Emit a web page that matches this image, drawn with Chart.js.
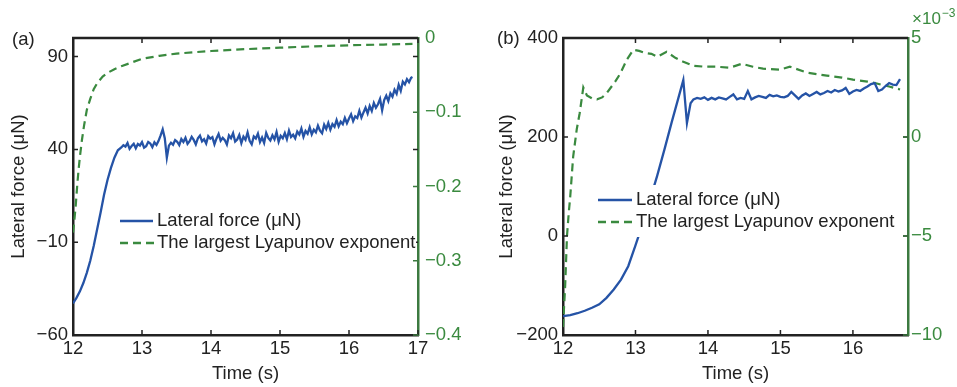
<!DOCTYPE html>
<html>
<head>
<meta charset="utf-8">
<script src="https://cdn.jsdelivr.net/npm/chart.js@4.4.1/dist/chart.umd.min.js"></script>
<style>
  html, body { margin: 0; padding: 0; background: #fff; }
  #wrap { position: relative; width: 957px; height: 387px; }
  .panel { position: absolute; top: 0; height: 387px; }
</style>
</head>
<body>
<div id="wrap">
  <div class="panel" style="left:0;width:478px"><canvas id="chartA" width="478" height="387"></canvas></div>
  <div class="panel" style="left:478px;width:479px"><canvas id="chartB" width="479" height="387"></canvas></div>
</div>
<script>
// ---- panel (a) ----
const aForceTime = [12.00, 12.05, 12.10, 12.15, 12.20, 12.25, 12.30, 12.35, 12.40, 12.45, 12.50, 12.55, 12.60, 12.65,
  12.70, 12.73, 12.76, 12.79, 12.82, 12.85, 12.88, 12.91, 12.94, 12.97, 13.00, 13.03, 13.06, 13.09, 13.12, 13.15,
  13.18, 13.21, 13.24, 13.27, 13.30, 13.33, 13.36, 13.39, 13.42, 13.45, 13.48, 13.51, 13.54, 13.57, 13.60, 13.63,
  13.66, 13.69, 13.72, 13.75, 13.78, 13.81, 13.84, 13.87, 13.90, 13.93, 13.96, 13.99, 14.02, 14.05, 14.08, 14.11,
  14.14, 14.17, 14.20, 14.23, 14.26, 14.29, 14.32, 14.35, 14.38, 14.41, 14.44, 14.47, 14.50, 14.53, 14.56, 14.59,
  14.62, 14.65, 14.68, 14.71, 14.74, 14.77, 14.80, 14.83, 14.86, 14.89, 14.92, 14.95, 14.98, 15.01, 15.04, 15.07,
  15.10, 15.13, 15.16, 15.19, 15.22, 15.25, 15.28, 15.31, 15.34, 15.37, 15.40, 15.43, 15.46, 15.49, 15.52, 15.55,
  15.58, 15.61, 15.64, 15.67, 15.70, 15.73, 15.76, 15.79, 15.82, 15.85, 15.88, 15.91, 15.94, 15.97, 16.00, 16.03,
  16.06, 16.09, 16.12, 16.15, 16.18, 16.21, 16.24, 16.27, 16.30, 16.33, 16.36, 16.39, 16.42, 16.45, 16.48, 16.51,
  16.54, 16.57, 16.60, 16.63, 16.66, 16.69, 16.72, 16.75, 16.78, 16.81, 16.84, 16.87, 16.90, 16.92];
const aForce = [-43, -40, -36.5, -32, -26.5, -20, -12, -3, 6, 15.5, 23.5, 30, 35.5, 39.5,
  41.0, 42.2, 41.5, 43.4, 40.3, 41.8, 43.0, 40.6, 42.9, 42.1, 43.9, 40.9, 41.7, 44.0, 43.2, 41.2,
  43.8, 42.4, 44.6, 47.5, 50.8, 46.0, 35.5, 42.0, 43.6, 42.5, 45.0, 44.1, 42.3, 45.6, 44.0, 46.3,
  43.0, 44.4, 46.8, 45.1, 42.7, 46.0, 47.4, 44.3, 45.5, 43.2, 47.1, 45.8, 46.6, 42.8, 45.9, 48.3,
  44.7, 46.2, 45.0, 42.6, 47.5, 46.0, 48.7, 44.2, 45.3, 47.8, 43.4, 46.9, 45.2, 49.1, 44.6, 42.7,
  47.0, 45.9, 48.5, 44.0, 46.4, 43.5, 48.9, 46.2, 44.8, 47.6, 45.4, 49.3, 44.1, 47.3, 46.0, 48.8,
  45.5, 50.1, 46.7, 47.9, 45.9, 49.6, 48.0, 51.2, 46.8, 49.9, 48.4, 51.9, 48.1, 50.6, 49.2, 52.8,
  50.1, 48.7, 53.3, 51.0, 54.2, 50.6, 53.6, 52.2, 55.8, 52.4, 54.9, 53.6, 57.0, 54.1, 56.6, 58.9,
  55.2, 57.8, 56.9, 60.8, 57.1, 59.9, 62.5, 59.4, 63.4, 60.7, 65.0, 62.4, 64.3, 67.2, 61.0, 66.6,
  68.9, 66.0, 70.2, 68.4, 72.1, 70.0, 74.8, 71.6, 76.5, 75.0, 77.8, 76.2, 78.6, 79.0];
const aLyapTime = [12.00, 12.02, 12.04, 12.06, 12.08, 12.10, 12.13, 12.16, 12.20, 12.25, 12.30, 12.35, 12.43, 12.50,
  12.60, 12.70, 12.85, 13.00, 13.25, 13.50, 14.00, 14.50, 15.00, 15.50, 16.00, 16.50, 16.92];
const aLyap = [-0.262, -0.245, -0.225, -0.200, -0.178, -0.160, -0.137, -0.118, -0.097, -0.082, -0.069, -0.061, -0.052, -0.047,
  -0.042, -0.038, -0.033, -0.028, -0.024, -0.021, -0.0175, -0.015, -0.013, -0.0112, -0.0098, -0.0088, -0.008];
const aTimeTicks = [12, 13, 14, 15, 16, 17];
const aForceTicks = [-60, -10, 40, 90];
const aLyapTicks = [-0.4, -0.3, -0.2, -0.1, 0];

// ---- panel (b) ----
const bForceTime = [12.00, 12.10, 12.20, 12.30, 12.40, 12.50, 12.60, 12.70, 12.80, 12.90, 13.00, 13.10, 13.20, 13.30,
  13.40, 13.50, 13.60, 13.66, 13.71, 13.76,
  13.80, 13.85, 13.90, 13.95, 14.00, 14.05, 14.10, 14.15, 14.20, 14.25, 14.30, 14.35, 14.40, 14.45, 14.50, 14.55,
  14.60, 14.65, 14.70, 14.75, 14.80, 14.85, 14.90, 14.95, 15.00, 15.05, 15.10, 15.15, 15.20, 15.25, 15.30, 15.35,
  15.40, 15.45, 15.50, 15.55, 15.60, 15.65, 15.70, 15.75, 15.80, 15.85, 15.90, 15.95, 16.00, 16.05, 16.10, 16.15,
  16.20, 16.25, 16.30, 16.35, 16.40, 16.45, 16.50, 16.55, 16.60, 16.65];
const bForce = [-162, -160, -156, -151, -145, -138, -125, -108, -88, -61, -19, 25, 73, 122,
  175, 230, 283, 315, 228, 268,
  276, 279, 277, 280, 275, 279, 276, 280, 278, 276, 281, 286, 276, 279, 277, 293,
  276, 280, 283, 281, 279, 285, 282, 284, 281, 280, 283, 291, 284, 277, 284, 288,
  283, 287, 291, 286, 289, 293, 290, 295, 292, 294, 299, 287, 292, 295, 293, 298,
  302, 307, 309, 293, 296, 303, 309, 306, 305, 317];
const bLyapTime = [12.00, 12.03, 12.055, 12.08, 12.10, 12.14, 12.19, 12.23, 12.28, 12.33, 12.40, 12.47, 12.54, 12.60,
  12.65, 12.72, 12.79, 12.88, 12.97, 13.05, 13.13, 13.22, 13.30, 13.43, 13.55, 13.66, 13.80, 13.95, 14.12, 14.30,
  14.47, 14.62, 14.76, 14.99, 15.13, 15.37, 15.64, 15.85, 16.00, 16.20, 16.33, 16.50, 16.65];
const bLyap = [-9.6, -7.5, -5.0, -3.8, -3.0, -1.0, 0.4, 1.2, 2.5, 2.1, 1.95, 1.9, 2.0, 2.2,
  2.45, 2.8, 3.2, 3.9, 4.4, 4.35, 4.25, 4.2, 4.05, 4.3, 4.0, 3.8, 3.6, 3.55, 3.55, 3.5,
  3.7, 3.55, 3.45, 3.4, 3.55, 3.25, 3.1, 3.0, 2.9, 2.8, 2.7, 2.55, 2.4]; // x10^-3
const bTimeTicks = [12, 13, 14, 15, 16];
const bForceTicks = [-200, 0, 200, 400];
const bLyapTicks = [-10, -5, 0, 5];

const legendLabels = ['Lateral force (\u03bcN)', 'The largest Lyapunov exponent'];

const FONT = "'Liberation Sans', Arial, Helvetica, sans-serif";
const FS = 18.5;
const TEXT = '#222';
const BLUE = '#2553a6';
const GREEN = '#3a8a3f';
const AXIS_GREEN = '#3c7a40';

const minus = v => String(v).replace('-', '\u2212');
const pts = (xs, ys) => xs.map((x, i) => ({ x: x, y: ys[i] }));
const fixTicks = arr => scale => { scale.ticks = arr.map(v => ({ value: v })); };

function decor(cfg) {
  return {
    id: 'decor',
    afterDatasetsDraw(chart) {
      const ctx = chart.ctx;
      const a = chart.chartArea;
      const xs = chart.scales.x, yl = chart.scales.yL, yr = chart.scales.yR;
      ctx.save();
      // inward tick marks
      ctx.lineWidth = 1.5;
      ctx.strokeStyle = TEXT;
      ctx.beginPath();
      xs.ticks.forEach(t => {
        const px = xs.getPixelForValue(t.value);
        ctx.moveTo(px, a.bottom); ctx.lineTo(px, a.bottom - 5);
        ctx.moveTo(px, a.top); ctx.lineTo(px, a.top + 5);
      });
      yl.ticks.forEach(t => {
        const py = yl.getPixelForValue(t.value);
        ctx.moveTo(a.left, py); ctx.lineTo(a.left + 5, py);
        ctx.moveTo(a.right, py); ctx.lineTo(a.right - 5, py);
      });
      ctx.stroke();
      ctx.strokeStyle = AXIS_GREEN;
      ctx.beginPath();
      yr.ticks.forEach(t => {
        const py = yr.getPixelForValue(t.value);
        ctx.moveTo(a.right, py); ctx.lineTo(a.right - 5, py);
      });
      ctx.stroke();
      // top frame
      ctx.lineWidth = 2.5;
      ctx.strokeStyle = TEXT;
      ctx.beginPath();
      ctx.moveTo(a.left - 1, a.top); ctx.lineTo(a.right, a.top);
      ctx.stroke();
      // legend
      const lg = cfg.legend;
      ctx.fillStyle = '#fff';
      ctx.fillRect(a.left + lg.boxX, lg.boxY, lg.boxW, lg.boxH);
      ctx.lineWidth = 2.3;
      ctx.strokeStyle = BLUE;
      ctx.setLineDash([]);
      ctx.beginPath();
      ctx.moveTo(a.left + lg.lineX0, lg.row1); ctx.lineTo(a.left + lg.lineX1, lg.row1);
      ctx.stroke();
      ctx.strokeStyle = GREEN;
      ctx.setLineDash([8, 5]);
      ctx.beginPath();
      ctx.moveTo(a.left + lg.lineX0, lg.row2); ctx.lineTo(a.left + lg.lineX1 + 4, lg.row2);
      ctx.stroke();
      ctx.setLineDash([]);
      ctx.fillStyle = TEXT;
      ctx.font = FS + 'px ' + FONT;
      ctx.textAlign = 'left';
      ctx.textBaseline = 'middle';
      ctx.fillText(legendLabels[0], a.left + lg.textX, lg.row1);
      ctx.fillText(legendLabels[1], a.left + lg.textX, lg.row2);
      // panel letter
      ctx.fillText(cfg.letter, cfg.letterX, cfg.letterY);
      // exponent factor
      if (cfg.factor) {
        ctx.fillStyle = GREEN;
        ctx.font = '17px ' + FONT;
        ctx.fillText('\u00d710', cfg.factor.x, cfg.factor.y);
        const w = ctx.measureText('\u00d710').width;
        ctx.font = '12px ' + FONT;
        ctx.fillText('\u22123', cfg.factor.x + w + 1, cfg.factor.y - 5);
      }
      ctx.restore();
    }
  };
}

function makeChart(id, p) {
  return new Chart(document.getElementById(id), {
    type: 'line',
    data: {
      datasets: [
        { label: legendLabels[0], data: pts(p.forceTime, p.force), yAxisID: 'yL',
          borderColor: BLUE, borderWidth: 2.3, pointRadius: 0, tension: 0, order: 0 },
        { label: legendLabels[1], data: pts(p.lyapTime, p.lyap), yAxisID: 'yR',
          borderColor: GREEN, borderWidth: 2.2, borderDash: [8, 5], pointRadius: 0, tension: 0, order: 1 }
      ]
    },
    options: {
      responsive: false,
      animation: false,
      devicePixelRatio: 1,
      layout: { padding: { top: 38, left: 0, right: 0, bottom: 0 } },
      plugins: { legend: { display: false }, tooltip: { enabled: false } },
      scales: {
        x: {
          type: 'linear', min: 12, max: p.xMax,
          afterBuildTicks: fixTicks(p.timeTicks),
          afterFit: s => { s.height = 52; },
          grid: { display: false, drawTicks: false },
          border: { display: true, color: TEXT, width: 2.5 },
          ticks: { color: TEXT, font: { family: FONT, size: FS }, padding: 3, maxRotation: 0 },
          title: { display: true, text: 'Time (s)', color: TEXT, font: { family: FONT, size: FS }, padding: { top: 0, bottom: 2 } }
        },
        yL: {
          position: 'left', min: p.lMin, max: p.lMax,
          afterBuildTicks: fixTicks(p.lTicks),
          afterFit: s => { s.width = p.lWidth; },
          grid: { display: false, drawTicks: false },
          border: { display: true, color: TEXT, width: 2.5 },
          ticks: { color: TEXT, font: { family: FONT, size: FS }, padding: 5, callback: minus },
          title: { display: true, text: legendLabels[0], color: TEXT, font: { family: FONT, size: FS }, padding: { top: p.titlePad, bottom: 0 } }
        },
        yR: {
          position: 'right', min: p.rMin, max: p.rMax,
          afterBuildTicks: fixTicks(p.rTicks),
          afterFit: s => { s.width = p.rWidth; },
          grid: { display: false, drawTicks: false },
          border: { display: true, color: AXIS_GREEN, width: 2.5 },
          ticks: { color: GREEN, font: { family: FONT, size: FS }, padding: p.rPad, callback: minus }
        }
      }
    },
    plugins: [decor(p.decor)]
  });
}

makeChart('chartA', {
  forceTime: aForceTime, force: aForce, lyapTime: aLyapTime, lyap: aLyap,
  xMax: 17, timeTicks: aTimeTicks,
  lMin: -60, lMax: 100, lTicks: aForceTicks, lWidth: 73, titlePad: 8,
  rMin: -0.4, rMax: 0, rTicks: aLyapTicks, rWidth: 60, rPad: 7,
  decor: {
    letter: '(a)', letterX: 12, letterY: 40,
    legend: { boxX: 44, boxY: 206, boxW: 299, boxH: 52, lineX0: 47, lineX1: 80, textX: 84, row1: 221, row2: 243 }
  }
});

makeChart('chartB', {
  forceTime: bForceTime, force: bForce, lyapTime: bLyapTime, lyap: bLyap,
  xMax: 16.76, timeTicks: bTimeTicks,
  lMin: -200, lMax: 400, lTicks: bForceTicks, lWidth: 85, titlePad: 18,
  rMin: -10, rMax: 5, rTicks: bLyapTicks, rWidth: 49, rPad: 3,
  decor: {
    letter: '(b)', letterX: 19, letterY: 39,
    legend: { boxX: 33, boxY: 185, boxW: 305, boxH: 52, lineX0: 35, lineX1: 69, textX: 73, row1: 200, row2: 222 },
    factor: { x: 434, y: 19 }
  }
});
</script>
</body>
</html>
